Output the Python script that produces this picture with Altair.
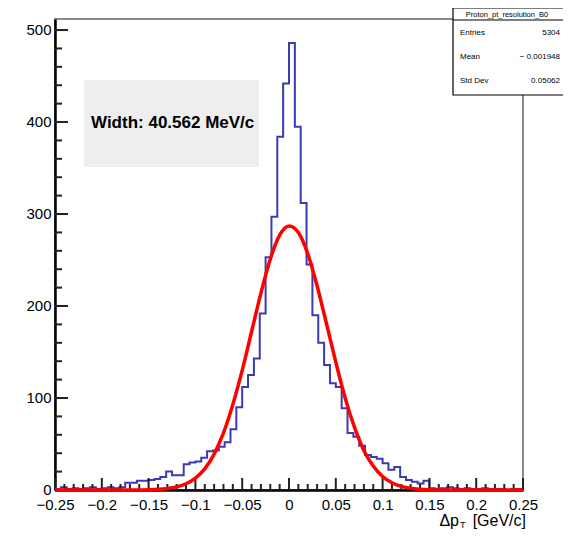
import altair as alt
import pandas as pd

# ---------------- data ----------------
x_min, x_max = -0.25, 0.25
bin_width = 0.00625  # 80 bins
counts = [1, 3, 1, 2, 1, 2, 3, 1, 2, 3, 2, 3,
          8, 8, 10, 10, 11, 12, 14, 20, 16, 16,
          28, 30, 31, 35, 42, 43, 47, 52, 66, 90,
          112, 125, 143, 192, 253, 297, 384, 442,
          486,
          395, 312, 245, 190, 160, 136, 116, 112, 89,
          62, 58, 48, 38, 36, 34, 29,
          22, 25, 14, 11, 9, 7, 10,
          2, 1, 2, 3, 2, 1, 2, 1, 1, 2, 1, 1, 1, 0, 1, 1]

fit_x = [-0.25, -0.16, -0.15, -0.14, -0.13, -0.12, -0.11, -0.10, -0.09, -0.08,
         -0.07, -0.06, -0.05, -0.04, -0.03, -0.02, -0.01, 0.0, 0.01, 0.02,
         0.03, 0.04, 0.05, 0.06, 0.07, 0.08, 0.09, 0.10, 0.11, 0.12,
         0.13, 0.14, 0.15, 0.16, 0.25]
fit_y = [0, 0.1, 0.3, 0.7, 1.6, 3.4, 6.8, 13, 23, 39,
         62, 93, 130, 172, 214, 251, 277, 287, 280, 257,
         222, 181, 139, 100, 68, 43, 26, 14.7, 7.8, 3.9,
         1.8, 0.8, 0.3, 0.1, 0]

x_major = [-0.25, -0.2, -0.15, -0.1, -0.05, 0.0, 0.05, 0.1, 0.15, 0.2, 0.25]
x_minor = [-0.24, -0.23, -0.22, -0.21, -0.19, -0.18, -0.17, -0.16, -0.14, -0.13,
           -0.12, -0.11, -0.09, -0.08, -0.07, -0.06, -0.04, -0.03, -0.02, -0.01,
           0.01, 0.02, 0.03, 0.04, 0.06, 0.07, 0.08, 0.09, 0.11, 0.12,
           0.13, 0.14, 0.16, 0.17, 0.18, 0.19, 0.21, 0.22, 0.23, 0.24]
y_major = [0, 100, 200, 300, 400, 500]
y_minor = [20, 40, 60, 80, 120, 140, 160, 180, 220, 240, 260, 280,
           320, 340, 360, 380, 420, 440, 460, 480]

width_label = "Width: 40.562 MeV/c"
stats_title = "Proton_pt_resolution_B0"
stats_names = ["Entries", "Mean", "Std Dev"]
stats_values = ["5304", "\u2212 0.001948", "0.05062"]

# ---------------- layout ----------------
W, H = 468, 471
FONT = "Liberation Sans"
xscale = alt.Scale(domain=[x_min, x_max], nice=False, zero=False)
yscale = alt.Scale(domain=[0, 512], nice=False, zero=False)

xaxis = alt.Axis(values=x_major, format=".2~f", ticks=False, grid=False,
                 labelFontSize=15, labelFont=FONT, labelColor="black",
                 labelPadding=7, domainColor="black", domainWidth=2.5,
                 labelFlush=False, labelOverlap=False, title=None)
yaxis = alt.Axis(values=y_major, format="d", ticks=False, grid=False,
                 labelFontSize=15, labelFont=FONT, labelColor="black",
                 labelPadding=4, labelOffset=-1, domainColor="black", domainWidth=2.5,
                 labelFlush=False, labelOverlap=False, title=None)

edges = [x_min + i * bin_width for i in range(len(counts))] + [x_max]
hist_df = pd.DataFrame({"x": edges, "y": counts + [counts[-1]]})
fit_df = pd.DataFrame({"x": fit_x, "y": fit_y})
one = pd.DataFrame({"a": [0]})

hist = alt.Chart(hist_df).mark_line(
    interpolate="step-after", color="#3a3ab4", strokeWidth=2
).encode(
    x=alt.X("x:Q", scale=xscale, axis=xaxis),
    y=alt.Y("y:Q", scale=yscale, axis=yaxis),
)

fit = alt.Chart(fit_df).mark_line(
    interpolate="monotone", color="#ff0000", strokeWidth=3.5
).encode(
    x=alt.X("x:Q", scale=xscale, axis=xaxis),
    y=alt.Y("y:Q", scale=yscale, axis=yaxis),
)


def xticks(vals, length):
    return alt.Chart(pd.DataFrame({"x": vals})).mark_rule(
        color="#222222", strokeWidth=2
    ).encode(
        x=alt.X("x:Q", scale=xscale, axis=xaxis),
        y=alt.value(H), y2=alt.value(H - length),
    )


def yticks(vals, length):
    return alt.Chart(pd.DataFrame({"y": vals})).mark_rule(
        color="#222222", strokeWidth=2
    ).encode(
        y=alt.Y("y:Q", scale=yscale, axis=yaxis),
        x=alt.value(0), x2=alt.value(length),
    )


def rect(x1, x2, y1, y2, fill, stroke=None):
    kw = dict(fill=fill)
    if stroke:
        kw.update(stroke=stroke, strokeWidth=1.2)
    return alt.Chart(one).mark_rect(**kw).encode(
        x=alt.value(x1), x2=alt.value(x2), y=alt.value(y1), y2=alt.value(y2))


def text(s, x, y, size, align="left", weight="normal", baseline="alphabetic"):
    return alt.Chart(one).mark_text(
        text=s, align=align, baseline=baseline, fontSize=size,
        font=FONT, fontWeight=weight, color="black"
    ).encode(x=alt.value(x), y=alt.value(y))


width_box = rect(29, 204, 61, 148, "#eeeeee")
width_txt = text(width_label, 36, 104, 17, weight="bold", baseline="middle")

# axis title  Δp_T [GeV/c]
t1 = text("\u0394p", 404, 507, 16, align="right")
t2 = text("T", 405, 509, 9, align="left")
t3 = text("[GeV/c]", 471, 507, 16, align="right")

# stats box
stats_layers = [rect(398, 540, -11, 76, "white", "black")]
stats_layers.append(alt.Chart(one).mark_rule(color="black", strokeWidth=1.2).encode(
    x=alt.value(398), x2=alt.value(540), y=alt.value(1)))
stats_layers.append(text(stats_title, 452, -2, 7.5, align="center"))
for i, (n, v) in enumerate(zip(stats_names, stats_values)):
    yy = 16 + 24 * i
    stats_layers.append(text(n, 405, yy, 8))
    stats_layers.append(text(v, 505, yy, 8, align="right"))

chart = alt.layer(
    hist, width_box, width_txt,
    xticks(x_minor, 6), xticks(x_major, 12),
    yticks(y_minor, 7), yticks(y_major, 13),
    fit, t1, t2, t3, *stats_layers
).properties(
    width=W, height=H,
    padding={"left": 47, "top": 11, "right": 40, "bottom": 40},
    autosize=alt.AutoSizeParams(type="none"),
).configure_view(
    stroke="#888888", strokeWidth=2
)

chart.save("out.html", embed_options={"renderer": "svg", "actions": False})
